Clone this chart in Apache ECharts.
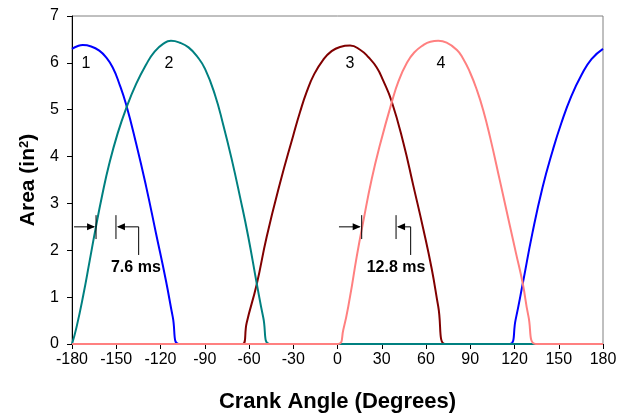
<!DOCTYPE html>
<html>
<head>
<meta charset="utf-8">
<script src="https://cdn.jsdelivr.net/npm/echarts@6/dist/echarts.min.js"></script>
<style>
  html, body { margin: 0; padding: 0; background: #ffffff; }
  #chart { width: 633px; height: 416px; }
</style>
</head>
<body>
<div id="chart"></div>
<script>
// Port open area of each cylinder against crank angle.
// Endpoints at zero are listed twice so the smoothed line keeps a sharp corner there.
const cyl1Deg  = [-180, -176, -172.7, -167, -161.5, -157, -152.4, -148, -143.4, -136.6, -129.8, -123.1, -116.3, -111.7, -107.7, -107.7, 116.8, 116.8, 120.7, 125.6, 132.1, 139.0, 145.8, 151.6, 158.4, 165.4, 172.2, 180];
const cyl1Area = [6.30, 6.36, 6.38, 6.35, 6.26, 6.12, 5.90, 5.56, 5.12, 4.29, 3.37, 2.37, 1.35, 0.58, 0, 0, 0, 0, 0.51, 1.29, 2.36, 3.34, 4.12, 4.70, 5.28, 5.74, 6.08, 6.30];

const cyl2Deg  = [-180, -180, -177, -172.3, -168, -164.2, -159.5, -154.7, -149, -143.4, -136.5, -129.8, -124, -118, -112.9, -106.8, -101, -95, -89.8, -83.1, -77.4, -71.7, -66.1, -60.5, -54.8, -50.3, -46.2, -46.2, 180];
const cyl2Area = [0, 0, 0.35, 1.05, 1.78, 2.43, 3.18, 3.85, 4.50, 5.02, 5.55, 5.96, 6.24, 6.41, 6.47, 6.43, 6.33, 6.13, 5.87, 5.32, 4.67, 3.94, 3.14, 2.29, 1.30, 0.56, 0, 0, 0];

const cyl3Deg  = [-180, -64.3, -64.3, -61.6, -54.8, -48, -39, -30, -25.4, -20.9, -15.8, -9.6, -4, 1.7, 8.5, 15.3, 21, 26.6, 31, 36.7, 44.6, 51.4, 58.2, 63.9, 68.3, 72.9, 72.9, 180];
const cyl3Area = [0, 0, 0, 0.45, 1.27, 2.29, 3.43, 4.45, 4.95, 5.38, 5.76, 6.07, 6.25, 6.34, 6.37, 6.28, 6.12, 5.90, 5.62, 5.18, 4.30, 3.38, 2.45, 1.60, 0.80, 0, 0, 0];

const cyl4Deg  = [-180, 0.5, 3.9, 8.5, 13, 17.5, 23.2, 28.8, 36.7, 41.5, 46.9, 52, 58.2, 63, 68.3, 74, 80.8, 85, 89.8, 94.5, 98.8, 103.4, 110.2, 116.9, 121, 125.6, 129.4, 134.4, 134.4, 180];
const cyl4Area = [0, 0, 0.30, 1.01, 1.86, 2.62, 3.52, 4.25, 5.15, 5.62, 5.99, 6.22, 6.38, 6.45, 6.47, 6.43, 6.28, 6.10, 5.80, 5.42, 4.99, 4.42, 3.47, 2.52, 1.94, 1.29, 0.60, 0, 0, 0];

// Axis ticks
const angleTicks = [-180, -150, -120, -90, -60, -30, 0, 30, 60, 90, 120, 150, 180];
const areaTicks  = [0, 1, 2, 3, 4, 5, 6, 7];

// Cylinder numbers written above each curve
const cylNames   = ['1', '2', '3', '4'];
const cylNameDeg = [-170.5, -114.2, 8.5, 70.2];
const cylNameArea = 5.99;

// Overlap timing dimensions (data coordinates)
const timingText     = ['7.6 ms', '12.8 ms'];
const timingBarA     = [-163.7, 16.4];
const timingBarB     = [-150.2, 39.7];
const timingTailA    = [-178.6, 1.0];
const timingTailB    = [-134.8, 49.6];
const timingTextDeg  = [-136.7, 39.7];

const zip = (xs, ys) => xs.map((x, i) => [x, ys[i]]);

const chart = echarts.init(document.getElementById('chart'), null, { renderer: 'canvas' });

const lineSeries = (data, color, z) => ({
  type: 'line',
  data: data,
  smooth: 0.5,
  showSymbol: false,
  symbol: 'none',
  z: z,
  lineStyle: { color: color, width: 2 },
  itemStyle: { color: color },
  animation: false
});

const font = 'Liberation Sans, Arial, Helvetica, sans-serif';

chart.setOption({
  animation: false,
  backgroundColor: '#ffffff',
  grid: {
    left: 72, right: 30, top: 16, bottom: 72,
    outerBoundsMode: 'none', containLabel: false,
    show: true, borderColor: '#808080', borderWidth: 1, backgroundColor: 'transparent'
  },
  xAxis: {
    type: 'value',
    min: angleTicks[0],
    max: angleTicks[angleTicks.length - 1],
    interval: angleTicks[1] - angleTicks[0],
    name: 'Crank Angle (Degrees)',
    nameLocation: 'middle',
    nameGap: 47,
    nameTextStyle: { fontFamily: font, fontSize: 22, fontWeight: 'bold', color: '#000' },
    axisLine: { show: true, onZero: false, lineStyle: { color: '#000', width: 1 } },
    axisTick: { show: true, inside: false, length: 5, lineStyle: { color: '#000' } },
    axisLabel: { fontFamily: font, fontSize: 16, color: '#000', margin: 8 },
    splitLine: { show: false }
  },
  yAxis: {
    type: 'value',
    min: areaTicks[0],
    max: areaTicks[areaTicks.length - 1],
    interval: areaTicks[1] - areaTicks[0],
    name: '{b|Area (in}{s|2}{b|)}',
    nameLocation: 'middle',
    nameGap: 33,
    nameTextStyle: {
      color: '#000',
      rich: {
        b: { fontFamily: font, fontSize: 21, fontWeight: 'bold', color: '#000' },
        s: { fontFamily: font, fontSize: 13, fontWeight: 'bold', color: '#000', verticalAlign: 'top' }
      }
    },
    axisLine: { show: true, onZero: false, lineStyle: { color: '#000', width: 1 } },
    axisTick: { show: true, inside: false, length: 5, lineStyle: { color: '#000' } },
    axisLabel: { fontFamily: font, fontSize: 16, color: '#000', margin: 13 },
    splitLine: { show: false }
  },
  series: [
    lineSeries(zip(cyl1Deg, cyl1Area), '#0000FF', 2),
    lineSeries(zip(cyl3Deg, cyl3Area), '#800000', 3),
    lineSeries(zip(cyl2Deg, cyl2Area), '#008080', 4),
    lineSeries(zip(cyl4Deg, cyl4Area), '#FF8080', 5)
  ]
});

// Annotations placed through the grid's coordinate system
const px = (x, y) => chart.convertToPixel({ gridIndex: 0 }, [x, y]);
const graphics = [];

cylNames.forEach((t, i) => {
  const p = px(cylNameDeg[i], cylNameArea);
  graphics.push({
    type: 'text', x: p[0], y: p[1], z: 10,
    style: { text: t, fontFamily: font, fontSize: 16, fill: '#000', align: 'center', verticalAlign: 'middle' }
  });
});

const arrowY = 2.5, barTop = 2.75, barBottom = 2.24, leaderBottom = 1.9, textArea = 1.64;
const seg = (a, b) => ({
  type: 'line', z: 10, silent: true,
  shape: { x1: a[0], y1: a[1], x2: b[0], y2: b[1] },
  style: { stroke: '#000', lineWidth: 1 }
});
const head = (tip, dir) => ({
  type: 'polygon', z: 10, silent: true,
  shape: { points: [[tip[0], tip[1]], [tip[0] - dir * 8, tip[1] - 3.5], [tip[0] - dir * 8, tip[1] + 3.5]] },
  style: { fill: '#000' }
});

timingText.forEach((t, i) => {
  const aTop = px(timingBarA[i], barTop), aBot = px(timingBarA[i], barBottom);
  const bTop = px(timingBarB[i], barTop), bBot = px(timingBarB[i], barBottom);
  graphics.push(seg(aTop, aBot));
  graphics.push(seg(bTop, bBot));
  const aTip = px(timingBarA[i], arrowY), tailA = px(timingTailA[i], arrowY);
  graphics.push(seg(tailA, [aTip[0] - 2, aTip[1]]));
  graphics.push(head([aTip[0] - 1, aTip[1]], 1));
  const bTip = px(timingBarB[i], arrowY), tailB = px(timingTailB[i], arrowY), tailBDown = px(timingTailB[i], leaderBottom);
  graphics.push(seg([bTip[0] + 2, bTip[1]], tailB));
  graphics.push(seg(tailB, tailBDown));
  graphics.push(head([bTip[0] + 1, bTip[1]], -1));
  const tp = px(timingTextDeg[i], textArea);
  graphics.push({
    type: 'text', x: tp[0], y: tp[1], z: 10,
    style: { text: t, fontFamily: font, fontSize: 16, fontWeight: 'bold', fill: '#000', align: 'center', verticalAlign: 'middle' }
  });
});

chart.setOption({ graphic: graphics });
</script>
</body>
</html>
